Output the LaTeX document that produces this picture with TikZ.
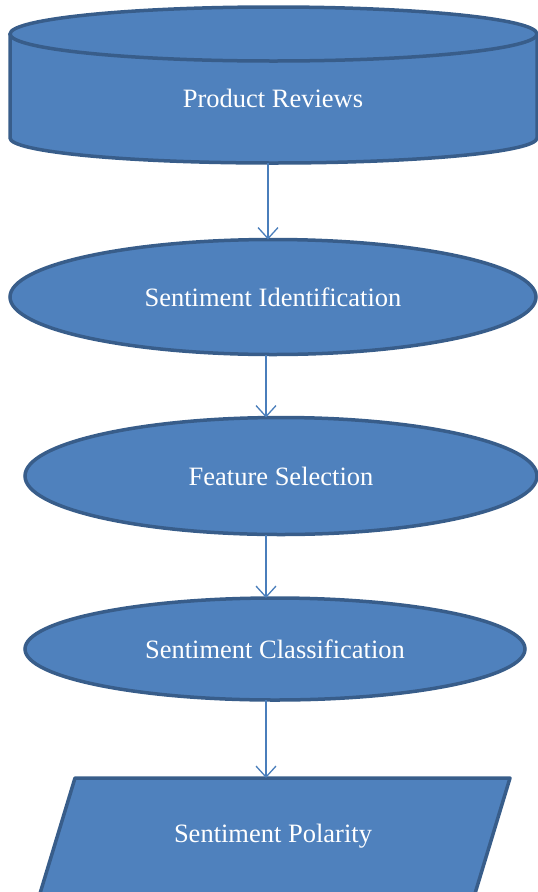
\documentclass[tikz,border=0pt]{standalone}
\usepackage{fontspec}
\setmainfont{Liberation Serif}
\usetikzlibrary{shapes.geometric,arrows.meta}
\definecolor{boxfill}{HTML}{4F81BD}
\definecolor{boxline}{HTML}{385D8A}
\definecolor{arrline}{HTML}{4A7EBB}
\tikzset{
  shapebox/.style={fill=boxfill,draw=boxline,line width=3.5pt},
  ovalbox/.style={shapebox,ellipse,inner sep=0pt,outer sep=0pt},
  lbl/.style={text=white,font=\fontsize{26.5}{31}\selectfont},
  arr/.style={arrline,line width=1.3pt,-{Straight Barb[length=11pt,width=20pt,line width=1.3pt]}}
}
\begin{document}
\begin{tikzpicture}[x=1pt,y=-1pt]
\useasboundingbox (0,0) rectangle (538,892);
\clip (0,0) rectangle (538,892);
% cylinder
\fill[boxfill] (10,34) -- (10,138) arc[start angle=180,end angle=360,x radius=263.5,y radius=-25] -- (537,34) -- cycle;
\draw[boxline,line width=3.5pt] (10,34) -- (10,138) arc[start angle=180,end angle=360,x radius=263.5,y radius=-25] -- (537,34);
\draw[shapebox] (273.5,34) ellipse[x radius=263.5,y radius=27];
\node[lbl] (pr) at (273,98) {Product Reviews};
\coordinate (prb) at (268,163);
% ellipses
\node[ovalbox,minimum width=526pt,minimum height=115pt,lbl] (si) at (273,297) {Sentiment Identification};
\node[ovalbox,minimum width=512pt,minimum height=117pt,lbl] (fs) at (281,476) {Feature Selection};
\node[ovalbox,minimum width=500pt,minimum height=102pt,lbl] (sc) at (275,649) {Sentiment Classification};
% parallelogram
\draw[shapebox,line join=round] (75,778) -- (510,778) -- (470,910) -- (35,910) -- cycle;
\node[lbl] (sp) at (273,836) {Sentiment Polarity};
\coordinate (spt) at (266,778);
% arrows
\draw[arr] (prb) -- (prb |- si.north);
\draw[arr] (266,0 |- si.south) -- (266,0 |- fs.north);
\draw[arr] (266,0 |- fs.south) -- (266,0 |- sc.north);
\draw[arr] (266,0 |- sc.south) -- (spt);
\end{tikzpicture}
\end{document}
